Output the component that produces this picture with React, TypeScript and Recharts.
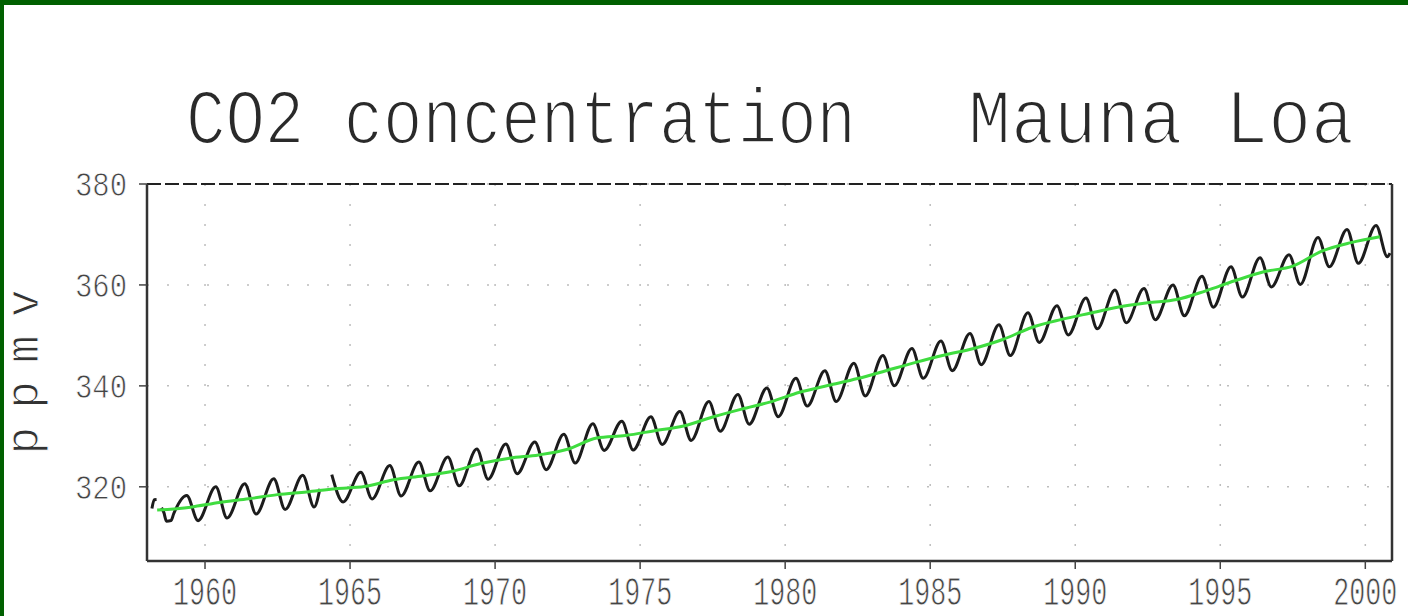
import React from 'react';
import {
  LineChart,
  Line,
  XAxis,
  YAxis,
  CartesianGrid,
  ReferenceLine,
} from 'recharts';

const years = [
  1959, 1960, 1961, 1962, 1963, 1964, 1965, 1966, 1967, 1968, 1969, 1970, 1971, 1972,
  1973, 1974, 1975, 1976, 1977, 1978, 1979, 1980, 1981, 1982, 1983, 1984, 1985, 1986,
  1987, 1988, 1989, 1990, 1991, 1992, 1993, 1994, 1995, 1996, 1997, 1998, 1999, 2000,
];

const mayPeak = [
  318.3, 320.0, 320.6, 321.6, 322.3, 322.4, 322.9, 324.2, 324.9, 325.9, 327.5, 328.5, 328.9, 330.4,
  332.5, 333.0, 333.9, 334.9, 336.9, 338.3, 339.6, 341.5, 343.0, 344.5, 346.0, 347.4, 348.9, 350.4,
  352.1, 354.5, 355.9, 357.4, 359.0, 359.3, 360.0, 361.7, 363.6, 365.4, 366.0, 369.4, 371.0, 371.8,
];

const autumnLow = [
  313.3, 313.8, 314.6, 315.5, 316.0, 317.0, 317.6, 318.2, 319.2, 320.2, 321.5, 322.6, 323.4, 324.7,
  327.2, 327.3, 328.4, 329.2, 331.0, 332.4, 333.9, 336.0, 336.9, 338.0, 340.0, 341.5, 343.0, 344.2,
  346.0, 348.6, 350.1, 351.3, 352.5, 353.1, 353.9, 355.6, 357.6, 359.6, 360.1, 363.6, 364.3, 365.6,
];

// smoothed trend (green), yearly
const annualMean = [
  315.97, 316.91, 317.64, 318.45, 318.99, 319.62, 320.04, 321.38, 322.16, 323.04, 324.62, 325.68,
  326.32, 327.45, 329.68, 330.18, 331.11, 332.04, 333.83, 335.4, 336.84, 338.75, 340.11, 341.45,
  343.05, 344.65, 346.12, 347.42, 349.19, 351.57, 353.12, 354.39, 355.61, 356.45, 357.1, 358.83,
  360.82, 362.61, 363.73, 366.7, 368.38, 369.55,
];

// first months of 1958 (June missing), the 1964 gap and the last point
const startTimes = [1958.17, 1958.25, 1958.33, 1958.42, 1958.5, 1958.58, 1958.67, 1958.83, 1958.92];
const startValues = [315.7, 317.45, 317.5, null, 315.86, 314.93, 313.2, 313.33, 314.67];
const gapTimes = [1963.96, 1964.17];
const gapValues = [319.6, null];
const endTimes = [2000.85];
const endValues = [366.3];

const trendStart = { t: 1958.35, v: 315.4 };

const xTicks = [1960, 1965, 1970, 1975, 1980, 1985, 1990, 1995, 2000];
const yTicks = [320, 340, 360, 380];
const X_MIN = 1958;
const X_MAX = 2000.92;

const monthly = [
  ...startTimes.map((t, i) => ({ t, v: startValues[i] })),
  ...gapTimes.map((t, i) => ({ t, v: gapValues[i] })),
  ...endTimes.map((t, i) => ({ t, v: endValues[i] })),
  ...years.flatMap((y, i) => [
    { t: y + 0.37, v: mayPeak[i] },
    { t: y + 0.76, v: autumnLow[i] },
  ]),
].sort((a, b) => a.t - b.t);

const trend = [trendStart, ...years.map((y, i) => ({ t: y + 0.5, v: annualMean[i] }))];

const FONT = '"Liberation Mono", monospace';

// white outline thins the glyphs a little, the original lettering is light
const thin = (w: number) => ({ stroke: '#fff', strokeWidth: w });

const YTick = ({ x, y, payload }: any) => (
  <text
    x={x}
    y={y + 12}
    textAnchor="end"
    fontFamily={FONT}
    fontSize={35}
    fill="#444"
    textLength={52}
    lengthAdjust="spacingAndGlyphs"
    {...thin(0.8)}
  >
    {payload.value}
  </text>
);

const XTick = ({ x, y, payload }: any) => (
  <text
    x={x}
    y={y + 36}
    textAnchor="middle"
    fontFamily={FONT}
    fontSize={40}
    fill="#444"
    textLength={64}
    lengthAdjust="spacingAndGlyphs"
    {...thin(0.8)}
  >
    {payload.value}
  </text>
);

export default function App() {
  return (
    <div
      style={{
        position: 'absolute',
        left: 0,
        top: 0,
        width: 1408,
        height: 616,
        background: '#fff',
        overflow: 'hidden',
      }}
    >
      <div style={{ position: 'absolute', left: 0, top: 0, width: 1408, height: 5, background: '#006000' }} />
      <div style={{ position: 'absolute', left: 0, top: 0, width: 4, height: 616, background: '#006000' }} />

      <div style={{ position: 'absolute', left: 0, top: 0 }}>
        <LineChart width={1408} height={616} margin={{ top: 184, right: 16, left: 67, bottom: 5 }}>
          <CartesianGrid stroke="#bdbdbd" strokeDasharray="2 18" strokeWidth={1.5} />
          <XAxis
            type="number"
            dataKey="t"
            domain={[X_MIN, X_MAX]}
            ticks={xTicks}
            allowDataOverflow
            height={50}
            tickSize={8}
            tickMargin={0}
            tick={<XTick />}
            axisLine={{ stroke: '#333', strokeWidth: 2.5 }}
            tickLine={{ stroke: '#444', strokeWidth: 1.5 }}
          />
          <YAxis
            type="number"
            domain={[305.3, 380]}
            ticks={yTicks}
            allowDataOverflow
            width={80}
            tickSize={8}
            tickMargin={12}
            tick={<YTick />}
            axisLine={{ stroke: '#333', strokeWidth: 2.5 }}
            tickLine={{ stroke: '#444', strokeWidth: 1.5 }}
          />
          <ReferenceLine y={380} stroke="#222" strokeWidth={2} strokeDasharray="14 4" />
          <ReferenceLine x={X_MAX} stroke="#333" strokeWidth={2.5} />
          <Line
            data={monthly}
            dataKey="v"
            type="monotoneX"
            stroke="#1c1c1c"
            strokeWidth={3}
            dot={false}
            connectNulls={false}
            isAnimationActive={false}
          />
          <Line
            data={trend}
            dataKey="v"
            type="monotoneX"
            stroke="#3fdc3f"
            strokeWidth={3}
            dot={false}
            isAnimationActive={false}
          />
        </LineChart>
      </div>

      <svg
        width={1408}
        height={616}
        style={{ position: 'absolute', left: 0, top: 0, pointerEvents: 'none' }}
      >
        <text
          x={186}
          y={143}
          fontFamily={FONT}
          fontSize={78}
          fill="#2a2a2a"
          textLength={670}
          lengthAdjust="spacingAndGlyphs"
          {...thin(2.2)}
        >
          CO2 concentration
        </text>
        <text
          x={968}
          y={143}
          fontFamily={FONT}
          fontSize={78}
          fill="#2a2a2a"
          textLength={386}
          lengthAdjust="spacingAndGlyphs"
          {...thin(2.2)}
        >
          Mauna Loa
        </text>
        <text
          x={38}
          y={372}
          transform="rotate(-90 38 372)"
          textAnchor="middle"
          fontFamily={FONT}
          fontSize={46}
          fill="#333"
          textLength={165}
          {...thin(1)}
        >
          ppmv
        </text>
      </svg>
    </div>
  );
}
